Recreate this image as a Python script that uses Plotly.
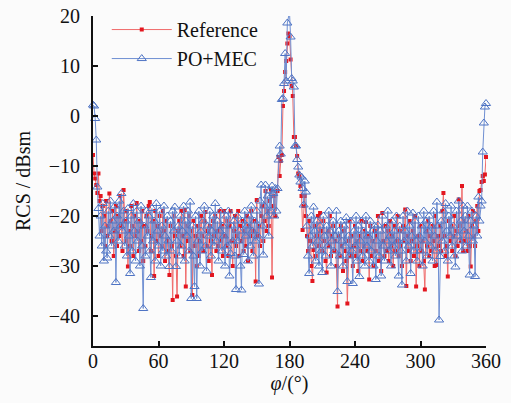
import plotly.graph_objects as go

angles = list(range(0, 361))

po_mec = [
    2.2, 2.0, -0.5, -4.8, -14.2, -18.5, -24, -20, -26, -17.5,
    -29, -22, -27, -28.4, -19, -24, -17, -26, -21, -23,
    -18, -33.3, -20, -25, -17, -22, -15.5, -23, -19, -26,
    -21, -28, -18.5, -24, -31.5, -20, -27, -17.5, -23, -29,
    -19, -25, -21, -30, -18, -26, -38.5, -22, -28, -19,
    -24, -20, -27, -32.3, -18.5, -25, -21, -29, -17.5, -23,
    -26, -19, -30, -22, -27, -18, -24, -28, -20, -25,
    -30.1, -21, -27, -19, -23, -18.2, -30.1, -25, -22, -28,
    -20, -26, -23, -18, -29, -21, -24, -19, -27, -17.2,
    -36.5, -22, -28, -34.1, -20, -36.5, -25, -19, -30, -23,
    -27, -21, -18, -26, -31, -22, -24, -19, -28, -23,
    -20, -26, -17.5, -25, -21, -29, -23, -19, -27, -22,
    -24, -30, -20, -26, -19, -32, -27.5, -22, -25, -21,
    -28, -34.7, -20, -25, -23, -30, -34.8, -21, -27.7, -19,
    -24, -22, -29, -20, -26, -18, -23, -28, -21, -25,
    -19, -24, -33.6, -17, -13.8, -22, -27.8, -18, -13.8, -20,
    -16, -24, -15, -19, -14, -15.5, -20, -14.5, -19, -14.5,
    -8.8, -6, -7.6, 3.3, 3.5, 6.5, 12.5, 7, 18.6, 20.1,
    20.8, 15.8, 7.5, 7, 5.8, -6, -6, -8.7, -10.2, -11.8,
    -13.2, -12.2, -14.5, -17.8, -13, -15.2, -22, -28, -31.5, -24,
    -20, -26, -18.2, -23, -29, -21, -25, -30, -22, -27,
    -31.3, -20, -24, -28, -22, -26, -19, -23, -30, -25,
    -21, -27, -24, -19, -35.1, -23, -28, -21, -25, -30,
    -22, -26, -20.3, -33.1, -24, -28, -21, -27, -33.5, -23,
    -26, -20, -29, -22, -32.1, -25, -21, -28, -23, -30,
    -20, -26, -24, -29, -21, -27, -23, -30, -22, -32.7,
    -25, -21.8, -28, -23, -32, -20, -26, -29, -22, -25,
    -19, -27, -24, -30, -21, -26, -23, -28, -20, -25,
    -32, -22, -27, -33.8, -20, -25, -23, -29, -19, -26,
    -22, -31.5, -24, -19.4, -27, -21, -25, -29, -20, -24,
    -27, -22, -30, -19, -25, -21, -28, -23, -20, -26,
    -22, -29, -19, -24, -27, -17.2, -22, -40.8, -28.1, -21,
    -25, -19, -27, -17.5, -23, -29, -20, -24, -18, -26,
    -22, -28, -30.2, -19, -24, -17, -25, -21, -27, -18,
    -23, -20, -26, -18, -24, -31.8, -21, -19, -25, -22,
    -32.1, -20, -24, -16.2, -21, -18, -17, -7.2, -1.4, 1.8,
    2.5,
]

reference = [
    -7.8, -11.5, -12.5, -13.8, -15.4, -11.5, -17, -16, -23, -18,
    -20, -26, -17, -24, -22, -15.5, -21, -25, -19, -28,
    -23, -18, -26, -20, -24, -16, -22, -27, -14.8, -21,
    -25, -19, -30.1, -23, -26, -18, -22, -28, -20, -24,
    -17.4, -23, -27, -21, -25, -19, -29, -22, -26, -20,
    -23, -18, -17.2, -27, -24, -21, -32, -19, -25, -22,
    -28, -20, -24, -26, -19, -23, -29, -21, -25, -27,
    -31.8, -22, -26, -36.8, -20, -24, -28, -36.1, -23, -21,
    -26, -19, -24, -28, -18.8, -34.1, -22, -25, -20, -27,
    -23, -35.8, -21, -26, -24, -30, -22, -28, -25, -20,
    -24, -27, -21, -19.2, -26, -23, -29, -22, -25, -31.8,
    -21, -24, -20, -27, -23, -26, -19, -25, -22, -28,
    -19, -24, -26, -21, -28, -22, -19, -25, -30, -23,
    -20, -26, -24, -19, -28, -22, -25, -21, -27, -23,
    -26, -20, -29, -22, -24, -19, -27, -23, -21, -33.1,
    -16.8, -24, -22, -26, -20, -18, -25, -21, -15, -23,
    -19, -22, -17, -14.8, -32.3, -18, -16, -20, -15, -15,
    -8.2, -12, -9, -7.8, 2, 5, 8.8, 11, 14.5, 16.5,
    16, 11.3, 6, 4, -4.2, -4.2, -6, -8, -11.5, -12,
    -14, -16, -22.8, -18, -16, -20, -24, -27, -21, -25,
    -30, -33, -26.8, -22, -28, -24, -20, -26, -19.4, -23,
    -27, -21, -25, -29, -31.3, -23, -26, -20, -28, -24,
    -22, -27, -25, -30, -38.1, -24, -28, -22, -26, -31,
    -23, -27, -29, -37.5, -25, -21, -28, -24, -30, -26,
    -22, -28, -25, -31, -24, -27, -21, -29, -26, -23,
    -21.2, -27, -24, -32.7, -22, -28, -25, -30, -23, -27,
    -24, -20, -29, -26, -31, -19.4, -25, -28, -22, -27,
    -23, -29, -21, -26, -24, -30, -22, -27, -25, -20,
    -28, -23, -26, -30, -22, -25, -18.7, -34, -24, -27,
    -21, -29, -25, -23, -28, -20, -34.1, -26, -24, -30,
    -22, -27, -25, -29, -34.7, -23, -26, -21, -28, -24,
    -27, -22, -25, -30, -20, -29.8, -24, -26, -22, -27,
    -19, -15.4, -24, -28, -26, -32.1, -21, -25, -22, -27,
    -24, -20, -28, -23, -26, -16.7, -22, -25, -14, -27,
    -21, -25, -23, -27, -20, -26, -30.1, -22, -19, -24,
    -26, -21, -18, -23, -15, -14.8, -13.2, -12, -13, -11.7,
    -8.2,
]

x_ticks = [0, 60, 120, 180, 240, 300, 360]
y_ticks = [-40, -30, -20, -10, 0, 10, 20]

FONT = "Liberation Serif"

fig = go.Figure()
fig.add_trace(go.Scatter(
    x=angles, y=reference, name="Reference", mode="lines+markers",
    line=dict(color="#f06a6a", width=1),
    marker=dict(symbol="square", size=4, color="#e3161f"),
    cliponaxis=False,
))
fig.add_trace(go.Scatter(
    x=angles, y=po_mec, name="PO+MEC", mode="lines+markers",
    line=dict(color="#6f8fd2", width=1),
    marker=dict(symbol="triangle-up-open", size=8, color="#4f74c4",
                line=dict(width=1)),
    cliponaxis=False,
))

fig.update_layout(
    width=511, height=403,
    margin=dict(l=93, r=25, t=16, b=57, autoexpand=False),
    paper_bgcolor="#fbfbfb", plot_bgcolor="#fbfbfb",
    font=dict(family=FONT, size=20, color="#111111"),
    showlegend=True,
    legend=dict(x=0.035, y=1.018, xanchor="left", yanchor="top",
                bgcolor="rgba(0,0,0,0)", font=dict(size=20, family=FONT),
                itemwidth=60, tracegroupgap=0),
)
fig.update_xaxes(
    range=[0, 360], tickvals=x_ticks, ticktext=[str(v) for v in x_ticks],
    ticks="inside", ticklen=5, tickwidth=1.5, tickcolor="#111",
    showline=True, linecolor="#111", linewidth=2, showgrid=False,
    zeroline=False, mirror=False, automargin=False, ticklabelstandoff=-4,
    title=dict(text="<i>φ</i>/(°)", font=dict(size=20, family=FONT), standoff=4),
)
fig.update_yaxes(
    range=[-46, 20], tickvals=y_ticks,
    ticktext=["\u221240", "\u221230", "\u221220", "\u221210", "0", "10", "20"],
    ticks="inside", ticklen=5, tickwidth=1.5, tickcolor="#111",
    showline=True, linecolor="#111", linewidth=2, showgrid=False,
    zeroline=False, mirror=False, automargin=False, ticklabelstandoff=7,
    title=dict(text="RCS / dBsm", font=dict(size=20, family=FONT), standoff=13),
)

fig.write_html("out.html",
               config={"displayModeBar": False},
               post_script="document.body.style.margin='0';document.body.style.overflow='hidden';")
